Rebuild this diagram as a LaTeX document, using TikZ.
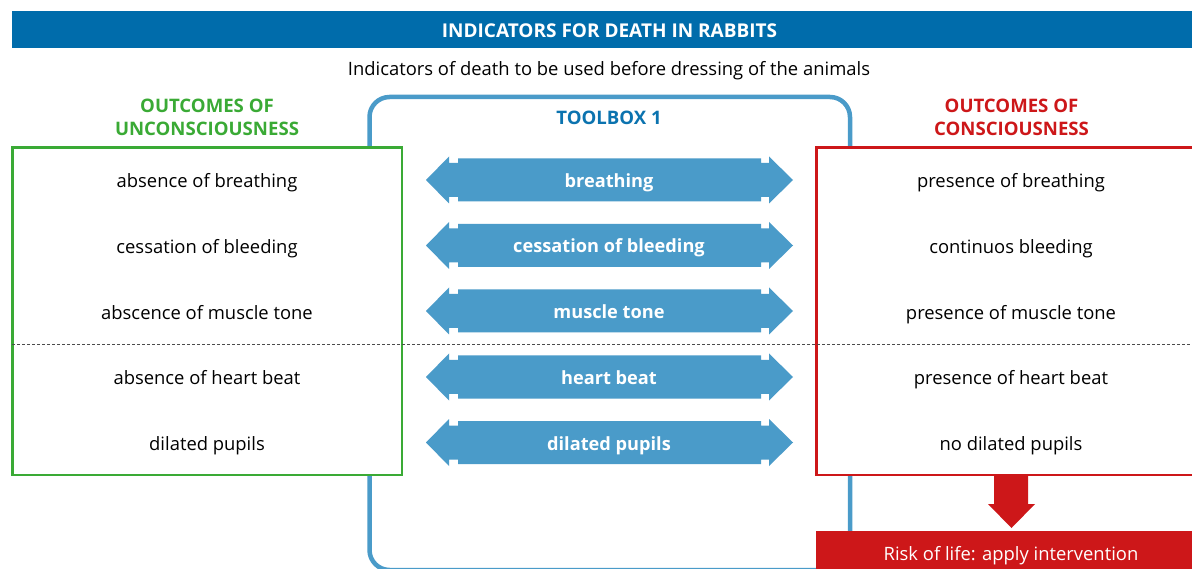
\documentclass[tikz,border=0pt]{standalone}
\usepackage{fontspec}
\setmainfont{Open Sans}
\definecolor{hdr}{HTML}{006CAB}
\definecolor{grn}{HTML}{3AAA35}
\definecolor{rd}{HTML}{CD1719}
\definecolor{blu}{HTML}{4A9BC9}
\tikzset{
  txt/.style={font=\fontsize{18.4}{20}\selectfont,text=black,inner sep=0pt,anchor=base},
  hd/.style={font=\fontsize{18.6}{23.5}\selectfont\bfseries,inner sep=0pt,align=center,anchor=center},
  arrlabel/.style={font=\fontsize{18.2}{20}\selectfont\bfseries,text=white,inner sep=0pt,anchor=base},
  pics/dbl/.style={code={
    \fill[blu] (426,0)--(449,23.5)--(449,17)--(458,17)--(458,21.5)--(761,21.5)--(761,17)--(769,17)--(769,23.5)--(793,0)--(769,-23.5)--(769,-17)--(761,-17)--(761,-21.5)--(458,-21.5)--(458,-17)--(449,-17)--(449,-23.5)--cycle;
  }}
}
\begin{document}
\begin{tikzpicture}[x=1pt,y=-1pt]
\useasboundingbox (0,0) rectangle (1192,569);
\fill[white] (0,0) rectangle (1192,569);
\fill[hdr] (12,11) rectangle (1192,48);
\node[font=\fontsize{19}{20}\selectfont\bfseries,text=white,inner sep=0pt,anchor=base] (title) at (609.5,37.5) {INDICATORS FOR DEATH IN RABBITS};
\node[txt] (sub) at (609,75.5) {Indicators of death to be used before dressing of the animals};
% toolbox
\begin{scope}
\clip (0,0) rectangle (1192,569);
\draw[blu,line width=4.5pt,rounded corners=20pt] (369.5,97) rectangle (850,570);
\end{scope}
\node[hd,text=hdr!85!blu] (tb) at (609,117.5) {TOOLBOX 1};
% headings
\node[hd,text=grn] (lh) at (207,117.5) {OUTCOMES OF\\UNCONSCIOUSNESS};
\node[hd,text=rd] (rh) at (1011.5,117.5) {OUTCOMES OF\\CONSCIOUSNESS};
% boxes
\draw[grn,line width=2.5pt,fill=white] (12.5,147.5) rectangle (402,475);
\draw[rd,line width=2.5pt,fill=white] (816.5,147.5) rectangle (1196,475);
% dashed line
\coordinate (dl) at (12,344);
\coordinate (dr) at (1192,344);
\draw[black!70,line width=0.7pt,dash pattern=on 3pt off 2pt] (dl) -- (dr);
% double arrows
\foreach \y/\t [count=\i] in {180/breathing,245.5/cessation of bleeding,311/muscle tone,377/heart beat,442.5/dilated pupils}{
  \pic at (0,\y) {dbl};
  \node[arrlabel] (a\i) at (609,\y+7.5) {\t};
}
% left
\foreach \y/\t [count=\i] in {180/absence of breathing,246/cessation of bleeding,312/abscence of muscle tone,377/absence of heart beat,443/dilated pupils}{
  \node[txt] (l\i) at (207,\y+7.5) {\t};
}
% right
\foreach \y/\t [count=\i] in {180/presence of breathing,246/continuos bleeding,312/presence of muscle tone,377/presence of heart beat,443/no dilated pupils}{
  \node[txt] (r\i) at (1011,\y+7.5) {\t};
}
% risk
\fill[rd] (816,531) rectangle (1192,569);
\node[txt,text=white] (risk) at (1011,560) {Risk of life: apply intervention};
\fill[rd] (994,476)--(1028,476)--(1028,504)--(1035,504)--(1011.5,528)--(988,504)--(994,504)--cycle;
\end{tikzpicture}
\end{document}
